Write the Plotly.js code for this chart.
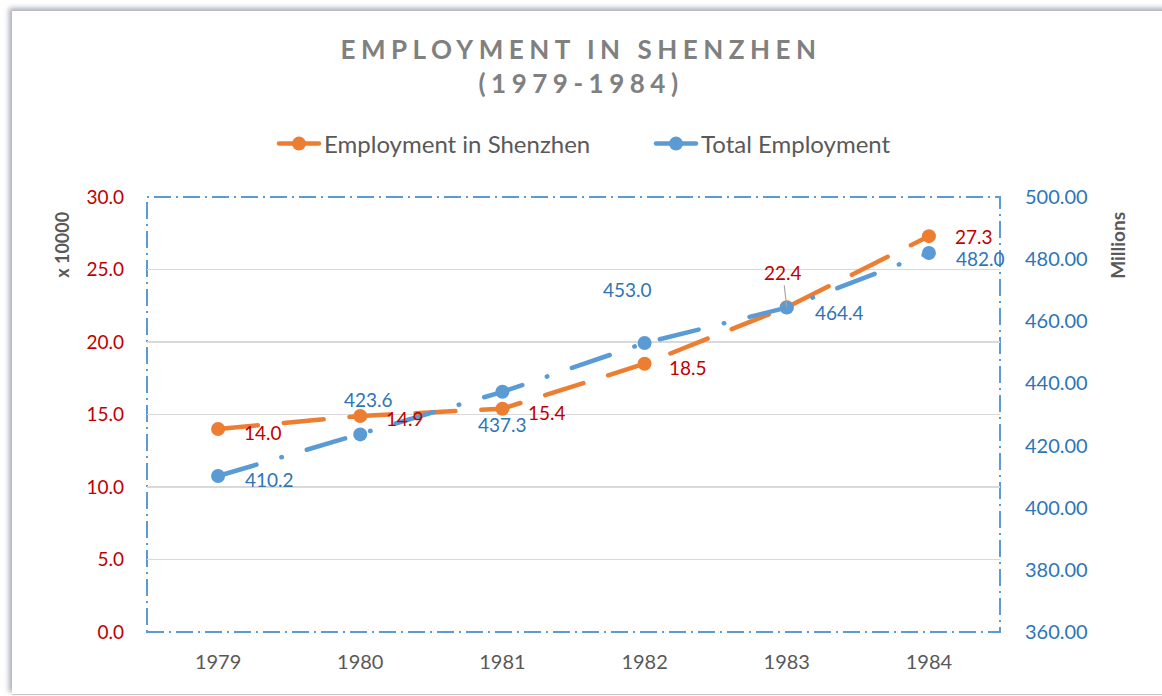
<!DOCTYPE html>
<html>
<head>
<meta charset="utf-8">
<script src="https://cdn.plot.ly/plotly-3.0.1.min.js"></script>
<style>
  html, body { margin: 0; padding: 0; background: #fff; }
  #chart { width: 1162px; height: 696px; position: absolute; left: 0; top: 0; }
  #frame { position: absolute; left: 12px; top: 11px; width: 1200px; height: 683px;
           border-bottom: 1px solid #c8c8cc; box-shadow: -3px -3px 5px rgba(140,145,160,0.75);
           pointer-events: none; }
  .js-line { stroke-linecap: round !important; }
  .gtitle { letter-spacing: 5.5px; }
</style>
</head>
<body>
<div id="frame"></div>
<div id="chart"></div>
<script>
const years = ['1979', '1980', '1981', '1982', '1983', '1984'];
const shenzhen = [14.0, 14.9, 15.4, 18.5, 22.4, 27.3];      // x 10000
const total = [410.2, 423.6, 437.3, 453.0, 464.4, 482.0];     // millions

// label offsets in pixels [dx, dy(down)] — styling only
const shenzhenLabelOffsets = [[45, 3], [45, 3], [45, 4], [43, 4], [-4, -35], [45, 0]];
const totalLabelOffsets = [[51, 3], [8, -35], [0, 33], [-17, -54], [53, 5], [52, 6]];

const ORANGE = '#ED7D31', BLUE = '#5B9BD5', RED = '#C00000', DBLUE = '#2E75B6', GRAY = '#595959';
const FONT = 'Lato, "Open Sans", sans-serif';

const traces = [
  {
    name: 'Employment in Shenzhen', x: years, y: shenzhen, type: 'scatter', mode: 'lines+markers',
    line: { color: ORANGE, width: 4.5, dash: '40px,26px' },
    marker: { color: ORANGE, size: 14 }, yaxis: 'y', hoverinfo: 'x+y'
  },
  {
    name: 'Total Employment', x: years, y: total, type: 'scatter', mode: 'lines+markers',
    line: { color: BLUE, width: 4.5, dash: '40px,26px,0.5px,26px' },
    marker: { color: BLUE, size: 14 }, yaxis: 'y2', hoverinfo: 'x+y'
  }
];

const annotations = [];
shenzhen.forEach((v, i) => {
  const o = shenzhenLabelOffsets[i];
  const withArrow = (i === 4);
  annotations.push(withArrow ? {
    x: i, y: v, xref: 'x', yref: 'y', text: v.toFixed(1),
    showarrow: true, arrowhead: 0, arrowwidth: 1.2, arrowcolor: '#a6a6a6', ax: o[0], ay: o[1],
    standoff: 0, font: { family: FONT, size: 19, color: RED }
  } : {
    x: i, y: v, xref: 'x', yref: 'y', text: v.toFixed(1), showarrow: false,
    xshift: o[0], yshift: -o[1], font: { family: FONT, size: 19, color: RED }
  });
});
total.forEach((v, i) => {
  const o = totalLabelOffsets[i];
  annotations.push({
    x: i, y: v, xref: 'x', yref: 'y2', text: v.toFixed(1), showarrow: false,
    xshift: o[0], yshift: -o[1], font: { family: FONT, size: 19, color: DBLUE }
  });
});
annotations.push({
  text: '<b>x 10000</b>', xref: 'paper', yref: 'paper', x: -0.0997, y: 0.89, textangle: -90,
  showarrow: false, xanchor: 'center', yanchor: 'middle', font: { family: FONT, size: 18, color: GRAY }
});
annotations.push({
  text: '<b>Millions</b>', xref: 'paper', yref: 'paper', x: 1.1383, y: 0.89, textangle: -90,
  showarrow: false, xanchor: 'center', yanchor: 'middle', font: { family: FONT, size: 19, color: GRAY }
});

const layout = {
  width: 1162, height: 696,
  margin: { l: 147, r: 162, t: 197, b: 64 },
  paper_bgcolor: 'rgba(0,0,0,0)', plot_bgcolor: '#fff',
  font: { family: FONT, color: GRAY },
  title: {
    text: '<b>EMPLOYMENT IN SHENZHEN<br>(1979-1984)</b>',
    font: { family: FONT, size: 26, color: '#808080' },
    x: 0.5, xref: 'container', y: 1 - 59 / 696, yref: 'container', yanchor: 'middle'
  },
  showlegend: true,
  legend: {
    orientation: 'h', x: 274 / 1162, xref: 'container', xanchor: 'left',
    y: 1 - 144 / 696, yref: 'container', yanchor: 'middle',
    font: { family: FONT, size: 24, color: GRAY }, itemwidth: 40, entrywidth: 322
  },
  xaxis: {
    type: 'category', range: [-0.5, 5.5], showgrid: false, zeroline: false, showline: false,
    ticks: '', ticklabelstandoff: 16, tickfont: { family: FONT, size: 20, color: GRAY }
  },
  yaxis: {
    range: [0, 30], dtick: 5, tickformat: '.1f', showgrid: true, gridcolor: '#d9d9d9', gridwidth: 1.5,
    zeroline: false, showline: false, ticks: '', ticklabelstandoff: 22,
    tickfont: { family: FONT, size: 19, color: RED }
  },
  yaxis2: {
    range: [360, 500], dtick: 20, tickformat: '.2f', overlaying: 'y', side: 'right',
    showgrid: false, zeroline: false, showline: false, ticks: '', ticklabelstandoff: 24,
    tickfont: { family: FONT, size: 20, color: DBLUE }
  },
  shapes: [{
    type: 'rect', xref: 'paper', yref: 'paper', x0: 0, x1: 1, y0: 0, y1: 1,
    line: { color: BLUE, width: 2, dash: '17px,5px,2px,5px' }, layer: 'below'
  }],
  annotations: annotations
};

Plotly.newPlot('chart', traces, layout, { displayModeBar: false, staticPlot: true });
</script>
</body>
</html>
